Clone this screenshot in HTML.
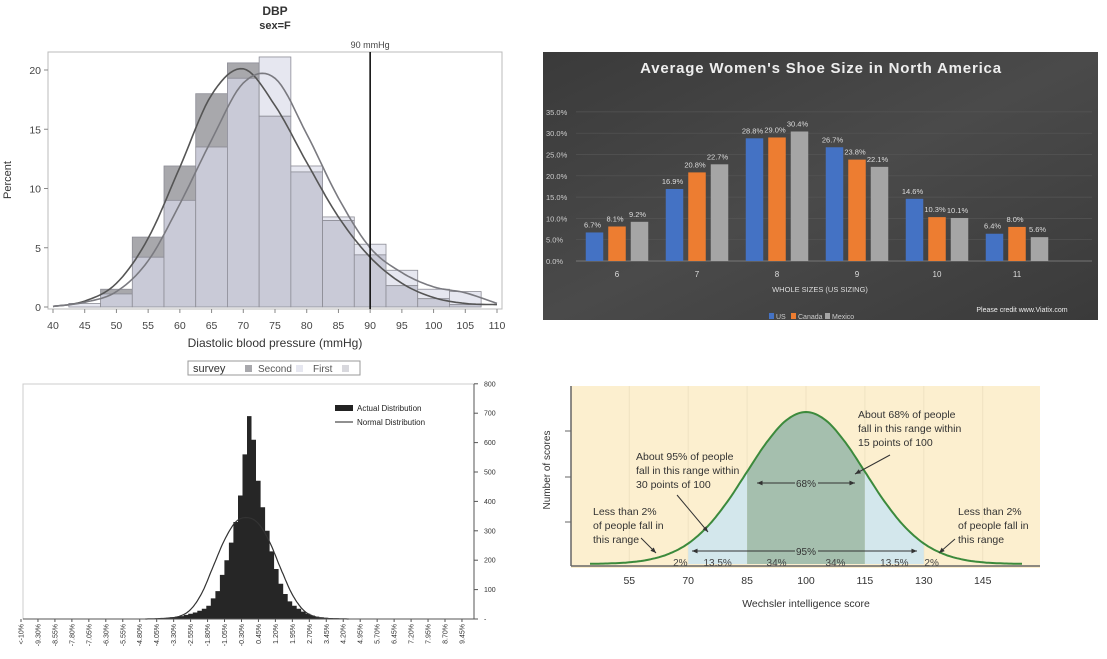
<!DOCTYPE html>
<html><head><meta charset="utf-8"><style>
html,body{margin:0;padding:0;background:#fff;}
svg{display:block;font-family:"Liberation Sans",sans-serif;}
</style></head><body>
<svg id="s" width="1107" height="659" viewBox="0 0 1107 659">
<rect width="1107" height="659" fill="#fff"/>
<!-- Chart 1 -->
<g id="c1">
<text x="275" y="15" text-anchor="middle" font-size="12" font-weight="bold" fill="#333">DBP</text>
<text x="275" y="29" text-anchor="middle" font-size="11" font-weight="bold" fill="#333">sex=F</text>
<rect x="48" y="52" width="454" height="257" fill="#fff" stroke="#bbb"/>
<text x="11" y="180" transform="rotate(-90 11 180)" text-anchor="middle" font-size="11" fill="#333">Percent</text>
<text x="275" y="347" text-anchor="middle" font-size="12" fill="#333">Diastolic blood pressure (mmHg)</text>
<g>
<rect x="188" y="361" width="172" height="14" fill="#fff" stroke="#999"/>
<text x="193" y="372" font-size="11" fill="#333">survey</text>
<rect x="245" y="365" width="7" height="7" fill="#a8a8ac"/><text x="258" y="372" font-size="10" fill="#555">Second</text>
<rect x="296" y="365" width="7" height="7" fill="#e6e7f0"/><text x="313" y="372" font-size="10" fill="#555">First</text>
<rect x="342" y="365" width="7" height="7" fill="#d8d8dd"/>
</g>
</g>
<!-- Chart 2 -->
<g id="c2">
<defs><linearGradient id="g2" x1="0" y1="0" x2="1" y2="1"><stop offset="0" stop-color="#3a3a3a"/><stop offset="0.5" stop-color="#4a4a4a"/><stop offset="1" stop-color="#3a3a3a"/></linearGradient></defs>
<rect x="543" y="52" width="555" height="268" fill="url(#g2)"/>
<text x="821" y="73" text-anchor="middle" font-size="15" font-weight="bold" fill="#eee" letter-spacing="0.8">Average Women's Shoe Size in North America</text>
<text x="820" y="292" text-anchor="middle" font-size="7.5" fill="#ddd">WHOLE SIZES (US SIZING)</text>
<text x="1022" y="312" text-anchor="middle" font-size="7" fill="#eee">Please credit www.Viatix.com</text>
<g>
<rect x="769" y="313" width="5" height="6" fill="#4472c4"/><text x="776" y="319" font-size="7" fill="#ccc">US</text>
<rect x="791" y="313" width="5" height="6" fill="#ed7d31"/><text x="798" y="319" font-size="7" fill="#ccc">Canada</text>
<rect x="825" y="313" width="5" height="6" fill="#a5a5a5"/><text x="832" y="319" font-size="7" fill="#ccc">Mexico</text>
</g>
</g>
<!-- Chart 3 -->
<g id="c3">
<rect x="23" y="384" width="451" height="235" fill="#fff" stroke="#ccc"/>
<rect x="335" y="405" width="18" height="6" fill="#222"/>
<text x="357" y="411" font-size="8" fill="#222">Actual Distribution</text>
<line x1="335" y1="422" x2="353" y2="422" stroke="#222"/>
<text x="357" y="425" font-size="8" fill="#222">Normal Distribution</text>
</g>
<!-- Chart 4 -->
<g id="c4">
<rect x="571" y="386" width="469" height="182" fill="#fcefcf"/>
<text x="550" y="470" transform="rotate(-90 550 470)" text-anchor="middle" font-size="10" fill="#333">Number of scores</text>
<text x="806" y="607" text-anchor="middle" font-size="10.5" fill="#333">Wechsler intelligence score</text>
</g>
</svg>
<script>
const NS='http://www.w3.org/2000/svg';
function mk(p,tag,a,txt){const e=document.createElementNS(NS,tag);for(const k in a)e.setAttribute(k,a[k]);if(txt!==undefined)e.textContent=txt;p.appendChild(e);return e;}
function smooth(pts){ // catmull-rom dense
  const out=[];for(let i=0;i<pts.length-1;i++){const p0=pts[Math.max(0,i-1)],p1=pts[i],p2=pts[i+1],p3=pts[Math.min(pts.length-1,i+2)];
  for(let t=0;t<1;t+=0.1){const t2=t*t,t3=t2*t;const f=(a,b,c,d)=>0.5*(2*b+(-a+c)*t+(2*a-5*b+4*c-d)*t2+(-a+3*b-3*c+d)*t3);out.push([f(p0[0],p1[0],p2[0],p3[0]),f(p0[1],p1[1],p2[1],p3[1])]);}}
  out.push(pts[pts.length-1]);return out;}

// ---- Chart 1 data ----
const dbpBins=[45,50,55,60,65,70,75,80,85,90,95,100,105];
const dbpSecond=[0,1.5,5.9,11.9,18.0,20.6,16.1,11.4,7.3,4.4,1.8,0.7,0.2];
const dbpFirst=[0.3,1.1,4.2,9.0,13.5,19.3,21.1,11.9,7.6,5.3,3.1,1.5,1.3];
const dbpCurveX=[40,45,50,55,60,65,70,75,80,85,90,95,100,105,110];
const dbpCurveSecond=[0.05,0.5,2.0,5.8,11.8,17.9,20.1,17.0,12.2,7.6,4.2,2.0,0.8,0.3,0.2];
const dbpCurveFirst=[0.05,0.4,1.3,3.9,8.7,14.1,18.9,19.3,14.6,9.2,5.0,2.9,1.7,1.2,0.3];
const dbpXTicks=[40,45,50,55,60,65,70,75,80,85,90,95,100,105,110];
const dbpYTicks=[0,5,10,15,20];
const dbpRefLine=[90];

// ---- Chart 2 data ----
const shoeSizes=['6','7','8','9','10','11'];
const shoeUS=[6.7,16.9,28.8,26.7,14.6,6.4];
const shoeCanada=[8.1,20.8,29.0,23.8,10.3,8.0];
const shoeMexico=[9.2,22.7,30.4,22.1,10.1,5.6];
const shoeYTicks=[0,5,10,15,20,25,30,35];

// ---- Chart 3 data ----
const retBinStart=[-4.0,-3.8,-3.6,-3.4,-3.2,-3.0,-2.8,-2.6,-2.4,-2.2,-2.0,-1.8,-1.6,-1.4,-1.2,-1.0,-0.8,-0.6,-0.4,-0.2,0.0,0.2,0.4,0.6,0.8,1.0,1.2,1.4,1.6,1.8,2.0,2.2,2.4,2.6,2.8,3.0,3.2,3.4,3.6,3.8];
const retActual=[2,3,4,6,8,10,14,18,22,28,35,45,70,95,150,200,260,330,420,560,690,610,470,380,300,230,170,120,85,60,45,35,25,18,12,8,6,4,3,2];
const retNormalX=[-4.5,-4,-3.5,-3,-2.5,-2,-1.5,-1,-0.5,0,0.5,1,1.5,2,2.5,3,3.5,4,4.5];
const retNormal=[0,1,3,9,32,88,178,268,330,345,325,262,170,84,30,8,2,1,0];
const retXLabels=['<-10%','-9.30%','-8.55%','-7.80%','-7.05%','-6.30%','-5.55%','-4.80%','-4.05%','-3.30%','-2.55%','-1.80%','-1.05%','-0.30%','0.45%','1.20%','1.95%','2.70%','3.45%','4.20%','4.95%','5.70%','6.45%','7.20%','7.95%','8.70%','9.45%'];
const retYTicks=[0,100,200,300,400,500,600,700,800];

// ---- Chart 4 data ----
const iqScores=[45,50,55,60,65,70,75,80,85,90,95,100,105,110,115,120,125,130,135,140,145,150,155];
const iqDensity=[0.1,0.4,1.1,2.9,6.6,13.5,24.9,41.1,60.7,80.1,94.6,100,94.6,80.1,60.7,41.1,24.9,13.5,6.6,2.9,1.1,0.4,0.1];
const iqTicks=[55,70,85,100,115,130,145];
const iqBands=[[70,85,'#d3e7ec'],[85,115,'#a5bfae'],[115,130,'#d3e7ec']];
const iqBandLabels=['2%','13.5%','34%','34%','13.5%','2%'];
const iqBandLabelScores=[68,77.5,92.5,107.5,122.5,132];

// ===== Chart 1 draw =====
(function(){
const g=document.getElementById('c1');
const x=v=>53+(v-40)*6.343, y=p=>307-p*11.85;
dbpBins.forEach((c,i)=>{
  const a=dbpSecond[i],b=dbpFirst[i],x0=x(c-2.5),w=x(c+2.5)-x0;
  const hi=Math.max(a,b),lo=Math.min(a,b);
  const r1=mk(g,'rect',{x:x0,y:y(hi),width:w,height:y(lo)-y(hi),fill:a>b?'#a8a8ac':'#e6e7f0',stroke:'#8d8d96','stroke-width':0.8});
  
  
  const r2=mk(g,'rect',{x:x0,y:y(lo),width:w,height:y(0)-y(lo),fill:'#c9cad7',stroke:'#8d8d96','stroke-width':0.8});
  
  
});
[[dbpCurveSecond,'#555'],[dbpCurveFirst,'#7a7a80']].forEach(([arr,col],k)=>{
  const pts=smooth(dbpCurveX.map((v,i)=>[x(v),y(arr[i])]));
  const p=mk(g,'path',{d:'M'+pts.map(q=>q[0].toFixed(1)+','+q[1].toFixed(1)).join('L'),fill:'none',stroke:col,'stroke-width':1.6});
  
  
});
const rl=mk(g,'line',{x1:x(dbpRefLine[0]),x2:x(dbpRefLine[0]),y1:52,y2:309,stroke:'#111','stroke-width':1.6});


const rt=mk(g,'text',{x:x(dbpRefLine[0]),y:48,'text-anchor':'middle','font-size':9,fill:'#444'},'90 mmHg');


dbpXTicks.forEach(v=>{mk(g,'line',{x1:x(v),x2:x(v),y1:309,y2:313,stroke:'#888'});
  const t=mk(g,'text',{x:x(v),y:329,'text-anchor':'middle','font-size':10.5,fill:'#444'},v);
  
  });
dbpYTicks.forEach(v=>{mk(g,'line',{x1:44,x2:48,y1:y(v),y2:y(v),stroke:'#888'});
  const t=mk(g,'text',{x:41,y:y(v)+4,'text-anchor':'end','font-size':10.5,fill:'#444'},v);
  
  });
})();

// ===== Chart 2 draw =====
(function(){
const g=document.getElementById('c2');
const cx=i=>617+80*i, y=p=>261-p*4.26;
shoeYTicks.forEach(v=>{mk(g,'line',{x1:576,x2:1092,y1:y(v),y2:y(v),stroke:v?'#555':'#888','stroke-width':0.7});
  const t=mk(g,'text',{x:546,y:y(v)+3,'font-size':7.5,fill:'#ccc'},v.toFixed(1)+'%');
  
  });
const series=[[shoeUS,'#4472c4',-22.5,'us'],[shoeCanada,'#ed7d31',0,'canada'],[shoeMexico,'#a5a5a5',22.5,'mexico']];
shoeSizes.forEach((s,i)=>{
  series.forEach(([arr,col,off,nm])=>{
    const v=arr[i];
    const r=mk(g,'rect',{x:cx(i)+off-8.75,y:y(v),width:17.5,height:y(0)-y(v),fill:col});
    
    
    const t=mk(g,'text',{x:cx(i)+off-2,y:y(v)-5,'text-anchor':'middle','font-size':7.5,fill:'#ddd'},v.toFixed(1)+'%');
    
    
  });
  const t=mk(g,'text',{x:cx(i),y:277,'text-anchor':'middle','font-size':8,fill:'#ddd'},s);
  
  
});
})();

// ===== Chart 3 draw =====
(function(){
const g=document.getElementById('c3');
const x=v=>21+22.6*(v+10), y=c=>619-c*0.294;
let d='M'+x(retBinStart[0])+','+y(0);
retBinStart.forEach((v,i)=>{d+='L'+x(v).toFixed(1)+','+y(retActual[i]).toFixed(1)+'L'+x(v+0.2).toFixed(1)+','+y(retActual[i]).toFixed(1);});
d+='L'+x(retBinStart[retBinStart.length-1]+0.2)+','+y(0)+'Z';
const a=mk(g,'path',{d:d,fill:'#262626'});


const pts=smooth(retNormalX.map((v,i)=>[x(v),y(retNormal[i])]));
const n=mk(g,'path',{d:'M'+pts.map(q=>q[0].toFixed(1)+','+q[1].toFixed(1)).join('L'),fill:'none',stroke:'#333','stroke-width':1.2});


mk(g,'line',{x1:474,x2:474,y1:384,y2:619,stroke:'#555'});
mk(g,'line',{x1:23,x2:474,y1:619,y2:619,stroke:'#555'});
retYTicks.forEach(v=>{mk(g,'line',{x1:474,x2:478,y1:y(v),y2:y(v),stroke:'#555'});
  const t=mk(g,'text',{x:484,y:y(v)+2.5,'font-size':7,fill:'#333'},v?v:'-');
  
  });
retXLabels.forEach((s,i)=>{const xx=21+16.96*i;
  mk(g,'line',{x1:xx,x2:xx,y1:619,y2:622,stroke:'#555'});
  const t=mk(g,'text',{x:xx+2.5,y:624,'text-anchor':'end','font-size':7,fill:'#333',transform:'rotate(-90 '+(xx+2.5)+' 624)'},s);
  
  });
})();

// ===== Chart 4 draw =====
(function(){
const g=document.getElementById('c4');
const x=v=>806+(v-100)*3.927, y=h=>564-h*1.52;
iqTicks.forEach(v=>{mk(g,'line',{x1:x(v),x2:x(v),y1:386,y2:564,stroke:'#efe2c2','stroke-width':1});});
const dense=smooth(iqScores.map((v,i)=>[v,iqDensity[i]]));
iqBands.forEach(([a,b,col],k)=>{
  const seg=dense.filter(p=>p[0]>=a-0.01&&p[0]<=b+0.01);
  let d='M'+x(a)+','+y(0)+seg.map(p=>'L'+x(p[0]).toFixed(1)+','+y(p[1]).toFixed(1)).join('')+'L'+x(b)+','+y(0)+'Z';
  const p=mk(g,'path',{d:d,fill:col});
  
  
});
const c=mk(g,'path',{d:'M'+dense.map(p=>x(p[0]).toFixed(1)+','+y(p[1]).toFixed(1)).join('L'),fill:'none',stroke:'#3c8a3c','stroke-width':2});


mk(g,'line',{x1:571,x2:1040,y1:566,y2:566,stroke:'#666','stroke-width':1.5});
mk(g,'line',{x1:571,x2:571,y1:386,y2:566,stroke:'#666','stroke-width':1.5});
[431,477,522].forEach(yy=>mk(g,'line',{x1:565,x2:571,y1:yy,y2:yy,stroke:'#666'}));
iqTicks.forEach(v=>{const t=mk(g,'text',{x:x(v),y:584,'text-anchor':'middle','font-size':10.5,fill:'#333'},v);
  
  });
iqBandLabels.forEach((s,i)=>{const t=mk(g,'text',{x:x(iqBandLabelScores[i]),y:566,'text-anchor':'middle','font-size':10,fill:'#444'},s);
  
  });
const notes=[[858,418,['About 68% of people','fall in this range within','15 points of 100']],[636,460,['About 95% of people','fall in this range within','30 points of 100']],[593,515,['Less than 2%','of people fall in','this range']],[958,515,['Less than 2%','of people fall in','this range']]];
notes.forEach(([nx,ny,lines],k)=>{lines.forEach((l,j)=>{const t=mk(g,'text',{x:nx,y:ny+j*14,'font-size':10.5,fill:'#333'},l);
  
  });});
const arrow=(x1,y1,x2,y2)=>{mk(g,'line',{x1:x1,y1:y1,x2:x2,y2:y2,stroke:'#333','stroke-width':1});
  const an=Math.atan2(y2-y1,x2-x1),L=6;
  mk(g,'path',{d:`M${x2},${y2}L${x2-L*Math.cos(an-0.4)},${y2-L*Math.sin(an-0.4)}L${x2-L*Math.cos(an+0.4)},${y2-L*Math.sin(an+0.4)}Z`,fill:'#333'});};
arrow(890,455,855,474);arrow(677,495,708,532);arrow(641,538,656,553);arrow(955,539,939,553);
arrow(795,483,757,483);arrow(818,483,855,483);
arrow(795,551,692,551);arrow(818,551,917,551);
const t1=mk(g,'text',{x:806,y:487,'text-anchor':'middle','font-size':10,fill:'#333'},'68%');


const t2=mk(g,'text',{x:806,y:555,'text-anchor':'middle','font-size':10,fill:'#333'},'95%');


})();
</script>
</body></html>
